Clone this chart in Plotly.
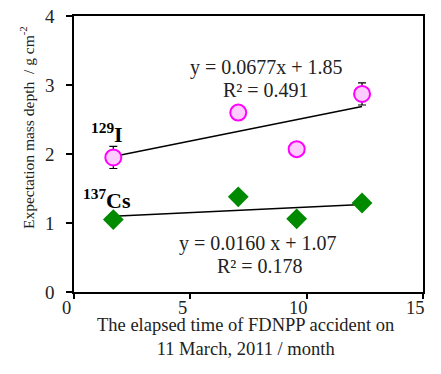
import plotly.graph_objects as go

# Data
months = [1.69, 7.06, 9.57, 12.38]
i129_depth = [1.95, 2.60, 2.07, 2.87]
i129_err = [0.16, 0.0, 0.0, 0.16]
cs137_depth = [1.05, 1.38, 1.06, 1.29]

i129_fit = (0.0677, 1.85)
cs137_fit = (0.0160, 1.07)

x_ticks = [0, 5, 10, 15]
y_ticks = [0, 1, 2, 3, 4]

FONT = "Liberation Serif"
TXT = "#222222"

fig = go.Figure()

xs = [min(months), max(months)]
fig.add_trace(go.Scatter(x=xs, y=[i129_fit[0] * x + i129_fit[1] for x in xs],
                         mode="lines", line=dict(color="black", width=1.5),
                         showlegend=False, hoverinfo="skip"))
fig.add_trace(go.Scatter(x=xs, y=[cs137_fit[0] * x + cs137_fit[1] for x in xs],
                         mode="lines", line=dict(color="black", width=1.5),
                         showlegend=False, hoverinfo="skip"))

fig.add_trace(go.Scatter(
    x=months, y=i129_depth, mode="markers",
    marker=dict(symbol="circle", size=16, color="#ffccff",
                line=dict(color="#ff00ff", width=2)),
    error_y=dict(type="data", array=i129_err, visible=True,
                 color="black", thickness=1.2, width=4),
    showlegend=False))

fig.add_trace(go.Scatter(
    x=months, y=cs137_depth, mode="markers",
    marker=dict(symbol="diamond", size=16, color="#008a00",
                line=dict(width=0)),
    showlegend=False))

W, H = 441, 374
L, R, T, B = 74, 18, 16, 82
pw, ph = W - L - R, H - T - B


def px2paper(x, y):
    return (x - L) / pw, (H - B - y) / ph


annotations = []
for txt, cx, cy in [("y = 0.0677x + 1.85", 266, 67), ("R² = 0.491", 266, 90),
                    ("y = 0.0160 x + 1.07", 258, 243), ("R² = 0.178", 260, 266)]:
    px, py = px2paper(cx, cy)
    annotations.append(dict(x=px, y=py, xref="paper", yref="paper", text=txt,
                            showarrow=False, xanchor="center", yanchor="middle",
                            font=dict(family=FONT, size=20, color=TXT)))

for txt, cx, cy in [("<sup>129</sup>I", 107, 133), ("<sup>137</sup>Cs", 107, 199)]:
    px, py = px2paper(cx, cy)
    annotations.append(dict(x=px, y=py, xref="paper", yref="paper", text="<b>" + txt + "</b>",
                            showarrow=False, xanchor="center", yanchor="middle",
                            font=dict(family=FONT, size=22, color="black")))

# tick labels (drawn as annotations for exact placement)
for t in x_ticks:
    annotations.append(dict(x=t, y=0, xref="x", yref="paper", text=str(t),
                            showarrow=False, xanchor="center", yanchor="top",
                            xshift=-8, yshift=-4,
                            font=dict(family=FONT, size=18.5, color=TXT)))
for t in y_ticks:
    annotations.append(dict(x=0, y=t, xref="paper", yref="y", text=str(t),
                            showarrow=False, xanchor="right", yanchor="middle",
                            xshift=-17,
                            font=dict(family=FONT, size=19, color=TXT)))

# y axis title
px, py = px2paper(27, 128)
annotations.append(dict(x=px, y=py, xref="paper", yref="paper",
                        text="Expectation mass depth  / g cm<sup>-2</sup>",
                        textangle=-90, showarrow=False, xanchor="center", yanchor="middle",
                        font=dict(family=FONT, size=15.5, color=TXT)))
# x axis title
px, py = px2paper(245, 337)
annotations.append(dict(x=px, y=py, xref="paper", yref="paper",
                        text="The elapsed time of FDNPP accident on<br>11 March, 2011 / month",
                        showarrow=False, xanchor="center", yanchor="middle",
                        font=dict(family=FONT, size=18.5, color=TXT)))

fig.update_layout(
    width=W, height=H,
    margin=dict(l=L, r=R, t=T, b=B),
    plot_bgcolor="white", paper_bgcolor="white",
    annotations=annotations,
    xaxis=dict(range=[0, 15], tickvals=x_ticks, showgrid=False, zeroline=False,
               showline=True, linecolor="black", linewidth=1.5, mirror=True,
               ticks="outside", ticklen=5, tickcolor="black", tickwidth=1.5,
               showticklabels=False),
    yaxis=dict(range=[0, 4], tickvals=y_ticks, showgrid=False, zeroline=False,
               showline=True, linecolor="black", linewidth=1.5, mirror=True,
               ticks="outside", ticklen=6, tickcolor="black", tickwidth=1.5,
               showticklabels=False),
)

fig.write_html("out.html", config={"displayModeBar": False},
               post_script="document.body.style.margin='0';document.body.style.overflow='hidden';")
